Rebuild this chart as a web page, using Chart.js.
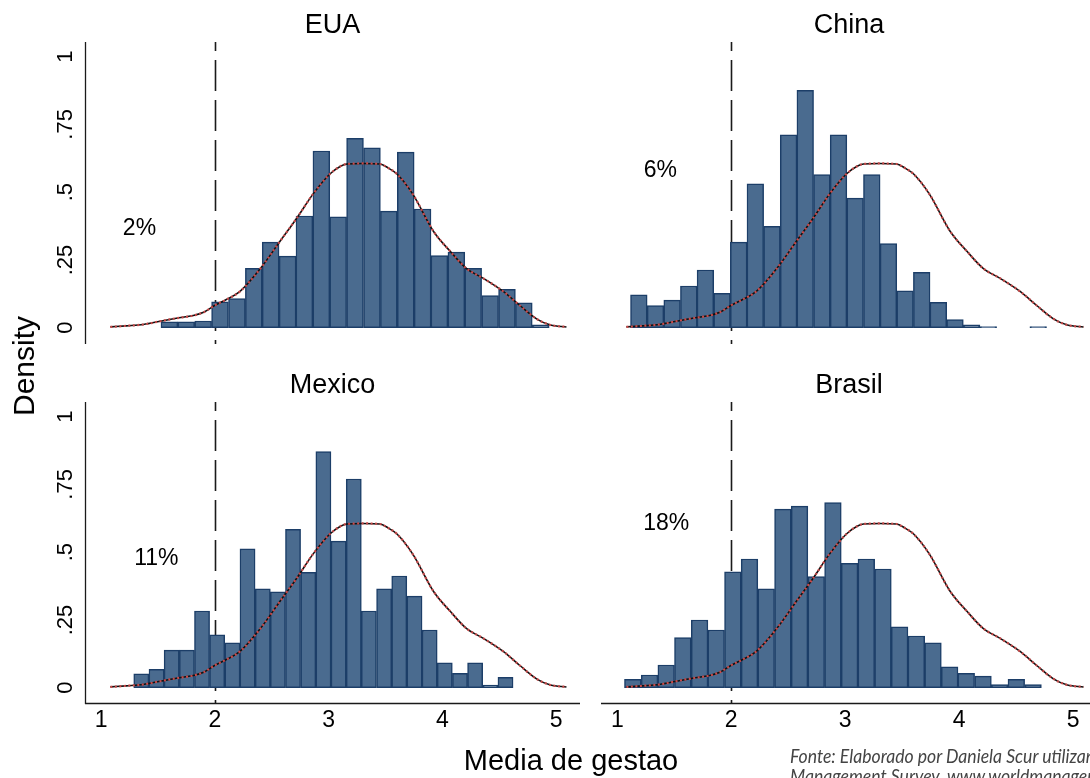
<!DOCTYPE html>
<html>
<head>
<meta charset="utf-8">
<title>Media de gestao - densidade</title>
<script src="https://cdn.jsdelivr.net/npm/chart.js@4.4.1/dist/chart.umd.min.js"></script>
<style>
  html, body { margin: 0; padding: 0; background: #fff; overflow: hidden; width: 1090px; height: 778px; }
  body { position: relative; font-family: "Liberation Sans", Arial, sans-serif; }
  canvas { position: absolute; }
  .lbl { position: absolute; color: #000; white-space: nowrap; }
  #ytitle { left: 24px; top: 366px; font-size: 30px; transform: translate(-50%, -50%) rotate(-90deg); }
  #xtitle { left: 571px; top: 760px; font-size: 29px; transform: translate(-50%, -50%); }
  #note { left: 790px; top: 745px; font-family: Lato, "Open Sans", sans-serif; font-style: italic; font-size: 20px;
          line-height: 20px; color: #444; transform: scaleX(0.88); transform-origin: 0 0; }
</style>
</head>
<body>
<canvas id="c-eua"></canvas>
<canvas id="c-china"></canvas>
<canvas id="c-mexico"></canvas>
<canvas id="c-brasil"></canvas>
<div class="lbl" id="ytitle">Density</div>
<div class="lbl" id="xtitle">Media de gestao</div>
<div class="lbl" id="note">Fonte: Elaborado por Daniela Scur utilizando dados do World<br>Management Survey, www.worldmanagement.org</div>
<script>
// axis ticks
const xTicks = [1, 2, 3, 4, 5];
const yTicks = [0, 0.25, 0.5, 0.75, 1];
const yTickLabels = ['0', '.25', '.5', '.75', '1'];
const cutoff = 2;

// histogram bins (bin centres) and densities
const euaBins = [1.599, 1.747, 1.896, 2.044, 2.193, 2.341, 2.489, 2.638, 2.786, 2.935, 3.083, 3.231,
  3.380, 3.528, 3.677, 3.825, 3.973, 4.122, 4.270, 4.419, 4.567, 4.715, 4.864];
const euaDensity = [0.022, 0.022, 0.025, 0.096, 0.108, 0.219, 0.316, 0.264, 0.412, 0.652, 0.409, 0.699,
  0.664, 0.430, 0.648, 0.438, 0.266, 0.279, 0.219, 0.119, 0.142, 0.092, 0.011];

const chinaBins = [1.189, 1.335, 1.481, 1.627, 1.773, 1.919, 2.065, 2.211, 2.357, 2.503, 2.649, 2.795,
  2.941, 3.087, 3.233, 3.379, 3.525, 3.671, 3.817, 3.963, 4.109, 4.255, 4.693];
const chinaDensity = [0.121, 0.082, 0.102, 0.154, 0.213, 0.127, 0.316, 0.531, 0.374, 0.712, 0.876, 0.565,
  0.712, 0.478, 0.565, 0.310, 0.136, 0.204, 0.094, 0.030, 0.011, 0.004, 0.004];

const mexicoBins = [1.352, 1.486, 1.619, 1.753, 1.886, 2.019, 2.153, 2.286, 2.420, 2.553, 2.686, 2.820,
  2.953, 3.087, 3.220, 3.353, 3.487, 3.620, 3.754, 3.887, 4.020, 4.154, 4.287, 4.421, 4.554];
const mexicoDensity = [0.051, 0.068, 0.139, 0.139, 0.283, 0.195, 0.166, 0.512, 0.365, 0.354, 0.584, 0.426,
  0.871, 0.541, 0.770, 0.283, 0.365, 0.412, 0.338, 0.213, 0.092, 0.053, 0.092, 0.010, 0.038];

const brasilBins = [1.136, 1.283, 1.429, 1.575, 1.722, 1.868, 2.014, 2.160, 2.307, 2.453, 2.599, 2.746,
  2.892, 3.038, 3.185, 3.331, 3.477, 3.624, 3.770, 3.916, 4.062, 4.209, 4.355, 4.501, 4.648];
const brasilDensity = [0.031, 0.047, 0.084, 0.185, 0.250, 0.213, 0.428, 0.475, 0.365, 0.659, 0.670, 0.410,
  0.683, 0.459, 0.475, 0.438, 0.225, 0.191, 0.166, 0.077, 0.053, 0.043, 0.012, 0.031, 0.012];

// reference kernel density (same curve in every panel)
const kdeX = [1.08, 1.22, 1.37, 1.53, 1.66, 1.81, 1.90, 2.00, 2.10, 2.22, 2.40, 2.57, 2.72, 2.86, 3.01, 3.10,
  3.16, 3.30, 3.45, 3.52, 3.60, 3.74, 3.92, 4.07, 4.21, 4.36, 4.54, 4.68, 4.83, 4.95, 5.09];
const kdeY = [0.003, 0.007, 0.012, 0.025, 0.035, 0.045, 0.057, 0.083, 0.104, 0.134, 0.219, 0.318, 0.405, 0.492,
  0.567, 0.595, 0.604, 0.606, 0.604, 0.590, 0.567, 0.492, 0.356, 0.281, 0.219, 0.182, 0.132, 0.082, 0.032,
  0.010, 0.003];

// share of firms below the cutoff
const shareLabels = ['2%', '6%', '11%', '18%'];

const FONT = '"Liberation Sans", Arial, sans-serif';

// panel layout: canvas box and plot area in page pixels
const panels = [
  { id: 'c-eua', title: 'EUA', bins: euaBins, vals: euaDensity, share: shareLabels[0], shareAt: [1.336, 0.365],
    left: true, bottom: false, box: [0, 0, 595, 372], area: [85, 42, 580, 344] },
  { id: 'c-china', title: 'China', bins: chinaBins, vals: chinaDensity, share: shareLabels[1], shareAt: [1.378, 0.579],
    left: false, bottom: false, box: [595, 0, 510, 372], area: [601, 42, 1097, 344] },
  { id: 'c-mexico', title: 'Mexico', bins: mexicoBins, vals: mexicoDensity, share: shareLabels[2], shareAt: [1.484, 0.476],
    left: true, bottom: true, box: [0, 372, 595, 406], area: [85, 402, 580, 704] },
  { id: 'c-brasil', title: 'Brasil', bins: brasilBins, vals: brasilDensity, share: shareLabels[3], shareAt: [1.429, 0.607],
    left: false, bottom: true, box: [595, 372, 510, 406], area: [601, 402, 1097, 704] }
];

// dashed cutoff line, drawn under the bars
const cutoffLine = {
  id: 'cutoffLine',
  beforeDatasetsDraw(chart) {
    const { ctx, chartArea } = chart;
    const x = Math.round(chart.scales.x.getPixelForValue(cutoff)) + 0.5;
    ctx.save();
    ctx.strokeStyle = '#1a1a1a';
    ctx.lineWidth = 1.6;
    ctx.setLineDash([31, 9]);
    ctx.lineDashOffset = 22;
    ctx.beginPath();
    ctx.moveTo(x, chartArea.top);
    ctx.lineTo(x, chartArea.bottom);
    ctx.stroke();
    ctx.restore();
  }
};

// axis lines, tick labels, panel title and the share label
const panelDecor = {
  id: 'panelDecor',
  afterDraw(chart, args, opts) {
    const { ctx, chartArea } = chart;
    const xs = chart.scales.x, ys = chart.scales.y;
    ctx.save();
    ctx.strokeStyle = '#1a1a1a';
    ctx.lineWidth = 1.3;
    ctx.fillStyle = '#000';

    if (opts.left) {
      ctx.beginPath();
      ctx.moveTo(chartArea.left + 0.5, chartArea.top);
      ctx.lineTo(chartArea.left + 0.5, chartArea.bottom);
      ctx.stroke();
      ctx.font = '22px ' + FONT;
      ctx.textAlign = 'center';
      ctx.textBaseline = 'middle';
      yTicks.forEach((v, i) => {
        ctx.save();
        ctx.translate(chartArea.left - 19, ys.getPixelForValue(v));
        ctx.rotate(-Math.PI / 2);
        ctx.fillText(yTickLabels[i], 0, 0);
        ctx.restore();
      });
    }

    if (opts.bottom) {
      ctx.beginPath();
      ctx.moveTo(chartArea.left, chartArea.bottom - 0.5);
      ctx.lineTo(chartArea.right, chartArea.bottom - 0.5);
      ctx.stroke();
      ctx.font = '23px ' + FONT;
      ctx.textAlign = 'center';
      ctx.textBaseline = 'middle';
      xTicks.forEach(v => ctx.fillText(String(v), xs.getPixelForValue(v), chartArea.bottom + 17));
    }

    ctx.font = '27px ' + FONT;
    ctx.textAlign = 'center';
    ctx.textBaseline = 'alphabetic';
    ctx.fillText(opts.title, (chartArea.left + chartArea.right) / 2, chartArea.top - 9);

    ctx.font = '23px ' + FONT;
    ctx.textBaseline = 'middle';
    ctx.fillText(opts.share, xs.getPixelForValue(opts.shareAt[0]), ys.getPixelForValue(opts.shareAt[1]));
    ctx.restore();
  }
};

const curve = kdeX.map((x, i) => ({ x: x, y: kdeY[i] }));

panels.forEach(p => {
  const canvas = document.getElementById(p.id);
  const [bx, by, bw, bh] = p.box;
  const [ax0, ay0, ax1, ay1] = p.area;
  canvas.width = bw;
  canvas.height = bh;
  canvas.style.left = bx + 'px';
  canvas.style.top = by + 'px';

  new Chart(canvas, {
    type: 'bar',
    data: {
      datasets: [
        {
          type: 'line',
          data: curve,
          borderColor: '#c94a4a',
          borderWidth: 2.2,
          borderDash: [2, 2.5],
          pointRadius: 0,
          cubicInterpolationMode: 'monotone',
          order: 1
        },
        {
          type: 'line',
          data: curve,
          borderColor: '#111111',
          borderWidth: 1.6,
          pointRadius: 0,
          cubicInterpolationMode: 'monotone',
          order: 2
        },
        {
          type: 'bar',
          data: p.bins.map((x, i) => ({ x: x, y: p.vals[i] })),
          backgroundColor: '#4a6b8f',
          borderColor: '#1c3e68',
          borderWidth: 1.5,
          borderSkipped: false,
          barPercentage: 1,
          categoryPercentage: 1,
          order: 3
        }
      ]
    },
    options: {
      responsive: false,
      animation: false,
      devicePixelRatio: 1,
      events: [],
      layout: { padding: { left: ax0 - bx, top: ay0 - by, right: bx + bw - ax1, bottom: by + bh - ay1 } },
      plugins: {
        legend: { display: false },
        tooltip: { enabled: false },
        panelDecor: { title: p.title, share: p.share, shareAt: p.shareAt, left: p.left, bottom: p.bottom }
      },
      scales: {
        x: { type: 'linear', min: 0.857, max: 5.209, offset: false, display: false,
             ticks: { stepSize: 1, includeBounds: false } },
        y: { type: 'linear', min: -0.06, max: 1.054, display: false }
      }
    },
    plugins: [cutoffLine, panelDecor]
  });
});
</script>
</body>
</html>
